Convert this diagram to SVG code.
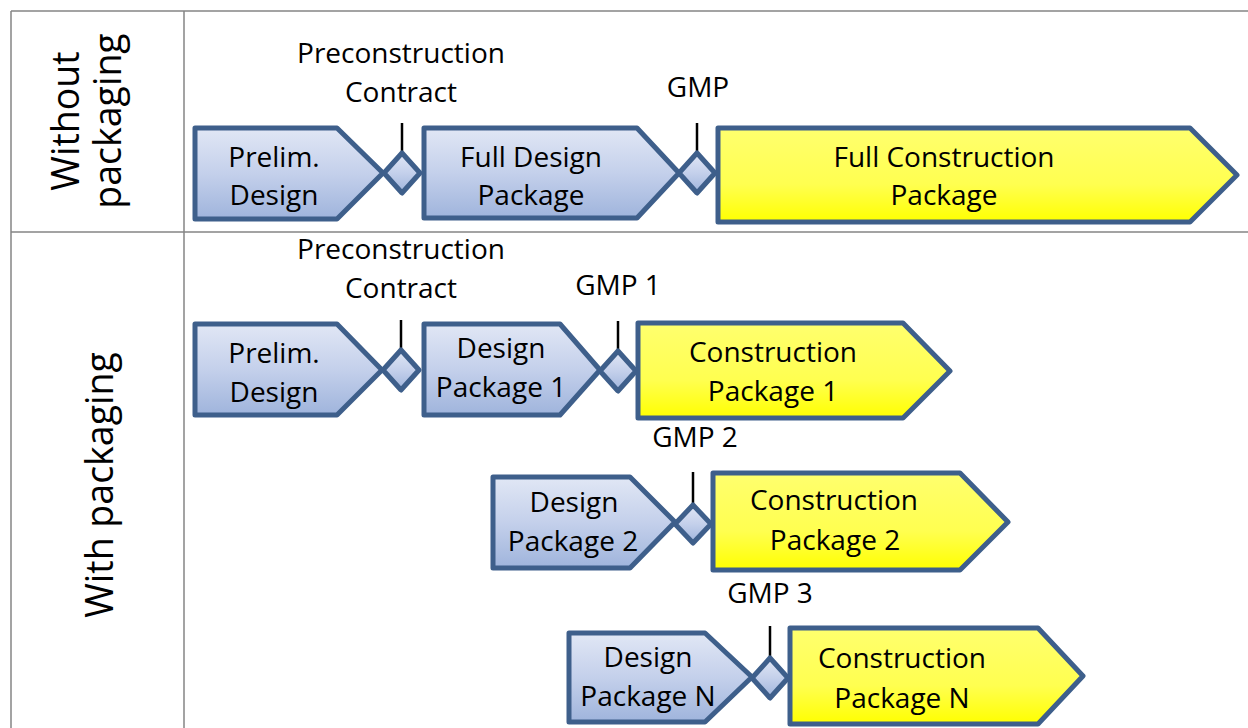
<svg xmlns="http://www.w3.org/2000/svg" width="1248" height="728" viewBox="0 0 1248 728">
  <defs>
    <linearGradient id="blueFill" x1="0" y1="0" x2="0" y2="1">
      <stop offset="0" stop-color="#e1e7f5"/>
      <stop offset="0.5" stop-color="#c4d0eb"/>
      <stop offset="1" stop-color="#9fb4dc"/>
    </linearGradient>
    <linearGradient id="yellowFill" x1="0" y1="0" x2="0" y2="1">
      <stop offset="0" stop-color="#ffff6e"/>
      <stop offset="0.6" stop-color="#ffff50"/>
      <stop offset="1" stop-color="#ffff00"/>
    </linearGradient>
    <style>
      .grid { stroke: #858585; stroke-width: 1.5; fill: none; }
      .design { fill: url(#blueFill); stroke: #3e5f8b; stroke-width: 5; stroke-linejoin: round; }
      .build { fill: url(#yellowFill); stroke: #3e5f8b; stroke-width: 5; stroke-linejoin: round; }
      .gate { fill: url(#blueFill); stroke: #3e5f8b; stroke-width: 5; stroke-linejoin: round; }
      .tick { stroke: #000; stroke-width: 2.5; }
      text { font-family: "Open Sans", "Liberation Sans", sans-serif; fill: #000; }
      .lbl { font-size: 28px; text-anchor: middle; }
      .side { font-size: 37.5px; text-anchor: middle; }
    </style>
  </defs>
  <rect width="1248" height="728" fill="#fff"/>

  <!-- table grid -->
  <g id="grid">
    <line class="grid" x1="11" y1="11" x2="1248" y2="11"/>
    <line class="grid" x1="11" y1="232" x2="1248" y2="232"/>
    <line class="grid" x1="11" y1="11" x2="11" y2="728"/>
    <line class="grid" x1="184" y1="11" x2="184" y2="728"/>
  </g>

  <!-- row headings -->
  <g id="row-without">
    <text class="side" transform="translate(79,121) rotate(-90)">Without</text>
    <text class="side" transform="translate(121,121) rotate(-90)">packaging</text>
  </g>
  <g id="row-with">
    <text class="side" transform="translate(113,485) rotate(-90)">With packaging</text>
  </g>

  <!-- milestone ticks -->
  <g id="connectors">
    <line class="tick" x1="402" y1="123" x2="402" y2="153"/>
    <line class="tick" x1="697" y1="123" x2="697" y2="153"/>
    <line class="tick" x1="401" y1="320" x2="401" y2="350"/>
    <line class="tick" x1="618" y1="321" x2="618" y2="351"/>
    <line class="tick" x1="693" y1="472" x2="693" y2="505"/>
    <line class="tick" x1="770" y1="626" x2="770" y2="658"/>
  </g>

  <!-- without packaging -->
  <g id="prelim-design-1">
    <polygon class="design" points="195,128 337,128 383,173 337,219 195,219"/>
    <text class="lbl" x="274" y="167">Prelim.</text>
    <text class="lbl" x="274" y="205">Design</text>
  </g>
  <g id="precon-contract-1">
    <polygon class="gate" points="402,153 420,173 402,193 384,173"/>
    <text class="lbl" x="401" y="63">Preconstruction</text>
    <text class="lbl" x="401" y="102">Contract</text>
  </g>
  <g id="full-design">
    <polygon class="design" points="424,128 637,128 679,173 637,218 424,218"/>
    <text class="lbl" x="531" y="167">Full Design</text>
    <text class="lbl" x="531" y="205">Package</text>
  </g>
  <g id="gmp">
    <polygon class="gate" points="697,153 715,173 697,193 679,173"/>
    <text class="lbl" x="698" y="97">GMP</text>
  </g>
  <g id="full-construction">
    <polygon class="build" points="718,128 1190,128 1237,175 1190,222 718,222"/>
    <text class="lbl" x="944" y="167">Full Construction</text>
    <text class="lbl" x="944" y="205">Package</text>
  </g>

  <!-- with packaging -->
  <g id="prelim-design-2">
    <polygon class="design" points="195,324 337,324 382,370 337,415 195,415"/>
    <text class="lbl" x="274" y="363">Prelim.</text>
    <text class="lbl" x="274" y="402">Design</text>
  </g>
  <g id="precon-contract-2">
    <polygon class="gate" points="401,350 419,370 401,390 383,370"/>
    <text class="lbl" x="401" y="259">Preconstruction</text>
    <text class="lbl" x="401" y="298">Contract</text>
  </g>
  <g id="design-package-1">
    <polygon class="design" points="424,324 560,324 600,370 560,415 424,415"/>
    <text class="lbl" x="501" y="358">Design</text>
    <text class="lbl" x="501" y="397">Package 1</text>
  </g>
  <g id="gmp-1">
    <polygon class="gate" points="618,351 636,371 618,391 600,371"/>
    <text class="lbl" x="618" y="295">GMP 1</text>
  </g>
  <g id="construction-package-1">
    <polygon class="build" points="638,323 903,323 950,371 903,418 638,418"/>
    <text class="lbl" x="773" y="362">Construction</text>
    <text class="lbl" x="773" y="401">Package 1</text>
  </g>

  <g id="design-package-2">
    <polygon class="design" points="493,477 630,477 675,522 630,568 493,568"/>
    <text class="lbl" x="574" y="512">Design</text>
    <text class="lbl" x="573" y="551">Package 2</text>
  </g>
  <g id="gmp-2">
    <polygon class="gate" points="693,505 711,524 693,543 675,524"/>
    <text class="lbl" x="695" y="447">GMP 2</text>
  </g>
  <g id="construction-package-2">
    <polygon class="build" points="713,473 960,473 1008,522 960,570 713,570"/>
    <text class="lbl" x="834" y="510">Construction</text>
    <text class="lbl" x="835" y="550">Package 2</text>
  </g>

  <g id="design-package-n">
    <polygon class="design" points="569,633 705,633 752,677 705,722 569,722"/>
    <text class="lbl" x="648" y="667">Design</text>
    <text class="lbl" x="648" y="706">Package N</text>
  </g>
  <g id="gmp-3">
    <polygon class="gate" points="770,658 788,678 770,698 752,678"/>
    <text class="lbl" x="770" y="603">GMP 3</text>
  </g>
  <g id="construction-package-n">
    <polygon class="build" points="790,628 1038,628 1083,676 1038,724 790,724"/>
    <text class="lbl" x="902" y="668">Construction</text>
    <text class="lbl" x="902" y="708">Package N</text>
  </g>
</svg>
